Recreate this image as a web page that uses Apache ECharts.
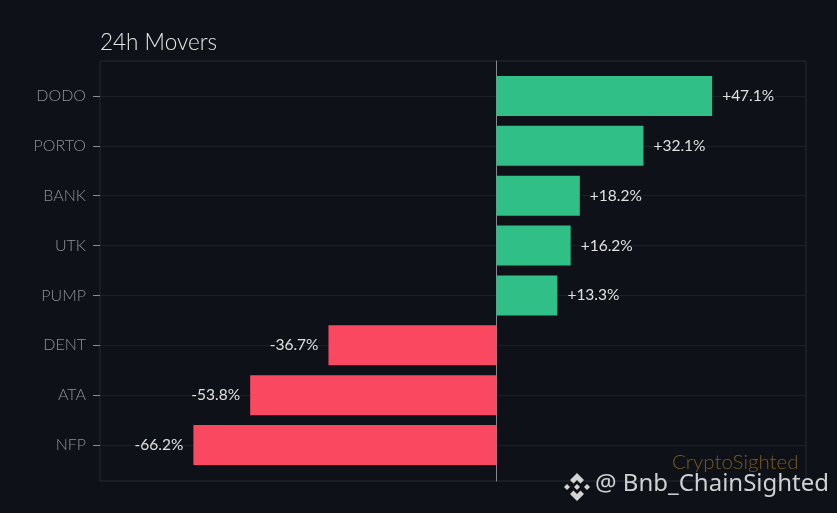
<!DOCTYPE html>
<html><head><meta charset="utf-8">
<style>html,body{margin:0;padding:0;background:#0e1118}#c{width:837px;height:513px}</style>
<script src="https://cdn.jsdelivr.net/npm/echarts@6/dist/echarts.min.js"></script>
</head><body><div id="c"></div>
<script>
const categories = ['DODO','PORTO','BANK','UTK','PUMP','DENT','ATA','NFP'];
const changes = [47.1,32.1,18.2,16.2,13.3,-36.7,-53.8,-66.2];
const xMin = -86.6, xMax = 67.6;
const GREEN = '#2fbf87', RED = '#fa4860';
const FONT = 'Lato, "Noto Sans", sans-serif';
const logoParts = [
  [[577,473],[584,480],[580.5,483.5],[577,480],[573.5,483.5],[570,480]],
  [[567,484],[570,487],[567,490],[564,487]],
  [[587,484],[590,487],[587,490],[584,487]],
  [[577,484],[580,487],[577,490],[574,487]],
  [[570,494],[573.5,490.5],[577,494],[580.5,490.5],[584,494],[577,501]]
];
const chart = echarts.init(document.getElementById('c'), null, {renderer:'canvas'});
chart.setOption({
  animation:false,
  backgroundColor:'#0e1118',
  title:{text:'24h Movers',left:100,top:31,padding:0,
    textStyle:{color:'#e6e6e6',fontSize:22.5,fontWeight:300,fontFamily:FONT}},
  grid:[
    {left:100,top:71,width:706,height:399,show:false},
    {left:100,top:61,width:706,height:420,show:true,borderColor:'#262a33',borderWidth:1,backgroundColor:'transparent'}
  ],
  xAxis:[
    {gridIndex:0,type:'value',min:xMin,max:xMax,show:false,splitLine:{show:false}},
    {gridIndex:1,type:'value',min:xMin,max:xMax,axisLabel:{show:false},axisTick:{show:false},axisLine:{show:false},splitLine:{show:false}}
  ],
  yAxis:[
    {gridIndex:0,type:'category',inverse:true,data:categories,
      axisLine:{show:false,onZero:false},
      axisTick:{show:true,alignWithLabel:true,length:7,lineStyle:{color:'#8a8d93',width:1}},
      axisLabel:{color:'#8f9298',fontSize:16,fontWeight:300,margin:14,fontFamily:FONT},
      splitLine:{show:true,alignWithLabel:true,lineStyle:{color:'#1b1f27',width:1}}},
    {gridIndex:1,type:'category',data:[''],
      axisLine:{show:true,onZero:true,lineStyle:{color:'#85888e',width:1}},
      axisTick:{show:false},axisLabel:{show:false},splitLine:{show:false}}
  ],
  series:[{
    type:'bar',xAxisIndex:0,yAxisIndex:0,barWidth:40,z:3,
    data:changes.map(v=>({value:v,itemStyle:{color:v>=0?GREEN:RED},
      label:{position:v>=0?'right':'left'}})),
    label:{show:true,distance:10,color:'#e0e0e0',fontSize:15.5,fontFamily:FONT,
      formatter:p=>(p.value>=0?'+':'')+p.value.toFixed(1)+'%'}
  }],
  graphic:[
    {type:'text',z:10,style:{text:'CryptoSighted',x:672,y:452,fill:'#7a5d1c',font:'300 20.5px '+FONT}},
    {type:'text',z:11,style:{text:'@ Bnb_ChainSighted',x:595,y:472,fill:'#cfd0d2',font:'24px "Noto Sans", sans-serif',
      shadowColor:'rgba(0,0,0,0.7)',shadowBlur:2,shadowOffsetX:1,shadowOffsetY:1}}
  ].concat(logoParts.map(points=>({type:'polygon',z:11,shape:{points},style:{fill:'#d4d4d5'}})))
});
</script></body></html>
